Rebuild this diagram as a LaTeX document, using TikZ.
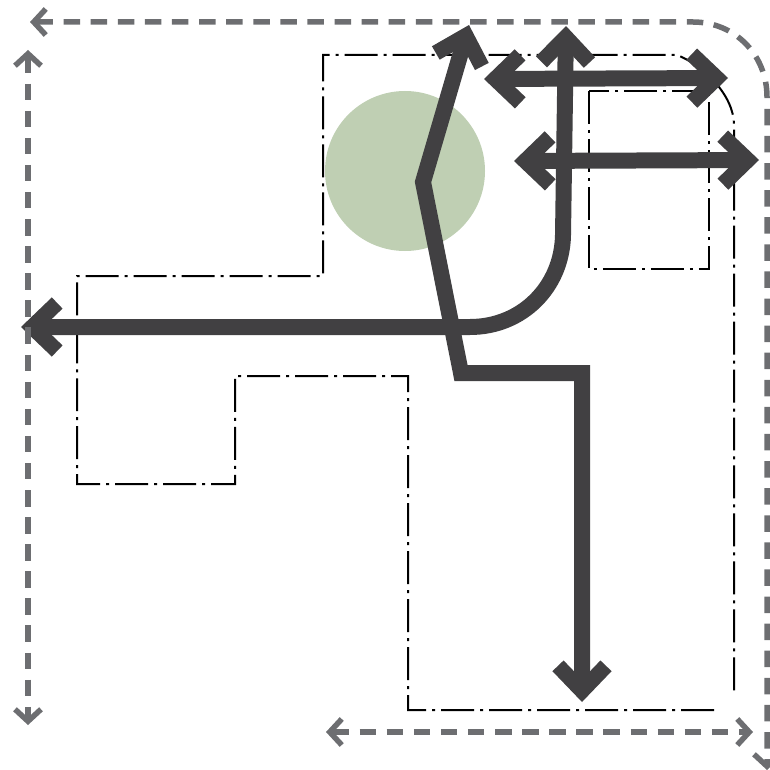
\documentclass[tikz,border=0pt]{standalone}
\usepackage{xcolor}
\usetikzlibrary{arrows.meta}

\definecolor{routedark}{HTML}{414042}
\definecolor{routegray}{HTML}{6D6E71}
\definecolor{treegreen}{HTML}{BFCFB3}

\tikzset{
  boundary/.style={black, line width=0.04cm, dash pattern=on 0.66cm off 0.12cm on 0.06cm off 0.12cm},
  mainroute/.style={routedark, line width=0.32cm, line join=miter},
  mainhead/.tip={Straight Barb[length=0.5cm, width=0.96cm, line width=0.31cm]},
  sideroute/.style={routegray, line width=0.11cm, dash pattern=on 0.33cm off 0.212cm},
  sidehead/.tip={Straight Barb[length=0.24cm, width=0.52cm, line width=0.11cm]}
}

\begin{document}
\begin{tikzpicture}[x=0.02cm, y=-0.02cm]

  \useasboundingbox (0,0) rectangle (770,770);

  % Tree
  \fill[treegreen] (405,171) circle (80);

  % Site outline
  \draw[boundary] (714,710) -- (408,710) -- (408,376) -- (235,376) -- (235,484)
    -- (77,484) -- (77,276) -- (323,276) -- (323,55) -- (677,55)
    .. controls (703,65) and (734,95) .. (734,125) -- (734,691);

  % Building
  \draw[boundary] (589,91) rectangle (709,269);

  % --- Main routes ---
  \draw[mainroute, {mainhead}-{mainhead}] (21,327) -- (470,327)
    .. controls (522,327) and (562,287) .. (563,235) -- (566,26);
  \draw[mainroute, {mainhead}-{mainhead}] (469,25) -- (423,182) -- (461,373)
    -- (582,373) -- (582,702);
  \draw[mainroute, {mainhead}-{mainhead}] (484,79) -- (728,78);
  \draw[mainroute, {mainhead}-{mainhead}] (514,161) -- (759,160);

  % --- Side routes ---
  \draw[sideroute, {sidehead}-{sidehead}] (30,22) -- (693,22)
    .. controls (735,22) and (767,55) .. (767,97) -- (767,770);
  \draw[sideroute, {sidehead}-{sidehead}] (28,50) -- (28,725);
  \draw[sideroute, {sidehead}-{sidehead}] (326,732) -- (753,732);

\end{tikzpicture}
\end{document}
